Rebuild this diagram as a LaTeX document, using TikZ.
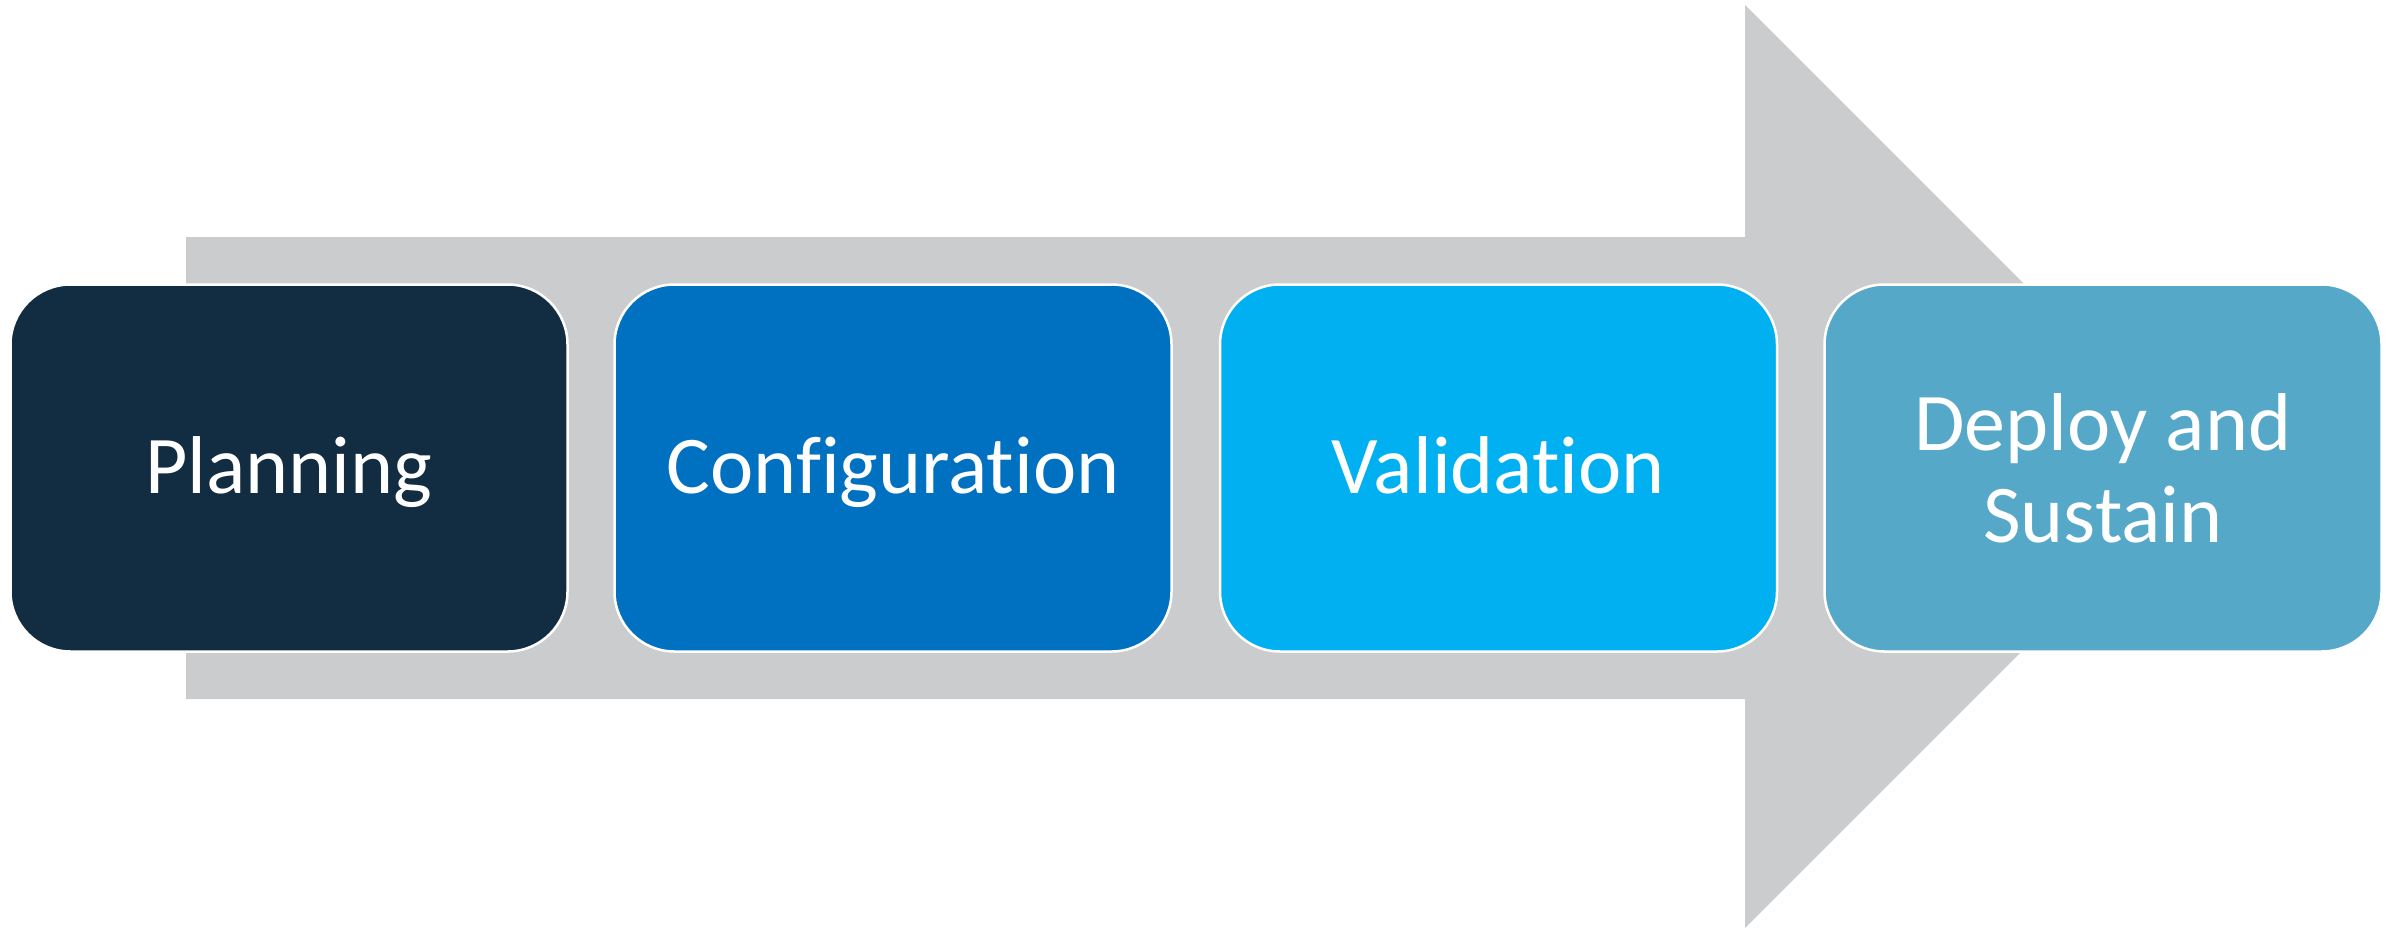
\documentclass[tikz,border=0pt]{standalone}
\usepackage{fontspec}
\setmainfont{Carlito}[Ligatures={NoCommon,NoRequired,NoContextual,NoDiscretionary}]
\definecolor{arrowgray}{HTML}{CBCCCE}
\definecolor{cPlan}{HTML}{122C42}
\definecolor{cConf}{HTML}{0070C0}
\definecolor{cVal}{HTML}{00B0F0}
\definecolor{cDep}{HTML}{56A8C8}
\tikzset{
  stagebox/.style={draw=white, line width=2.5pt, rounded corners=60pt,
    minimum width=557pt, minimum height=367pt, inner sep=0pt},
  stagelbl/.style={text=white, inner sep=0pt, align=center,
    font=\fontsize{82pt}{92pt}\selectfont},
  onelinelbl/.style={stagelbl, text height=50pt, text depth=0pt}
}
\begin{document}
\begin{tikzpicture}[x=1pt, y=-1pt]
\useasboundingbox (0,0) rectangle (2395,931);
% big gray arrow
\fill[arrowgray] (186,237) -- (1745,237) -- (1745,5) -- (2206.5,466.5)
  -- (1745,928) -- (1745,699) -- (186,699) -- cycle;
% stage boxes
\node[stagebox, fill=cPlan] (b1) at (289,468) {};
\node[stagebox, fill=cConf] (b2) at (893,468) {};
\node[stagebox, fill=cVal]  (b3) at (1498.5,468) {};
\node[stagebox, fill=cDep]  (b4) at (2103,468) {};
% labels
\node[onelinelbl] (t1) at (b1.center) {Planning};
\node[onelinelbl] (t2) at (b2.center) {Configuration};
\node[onelinelbl] (t3) at (b3.center) {Validation};
\node[stagelbl] (t4) at (b4.center) {Deploy and\\Sustain};
\end{tikzpicture}
\end{document}
